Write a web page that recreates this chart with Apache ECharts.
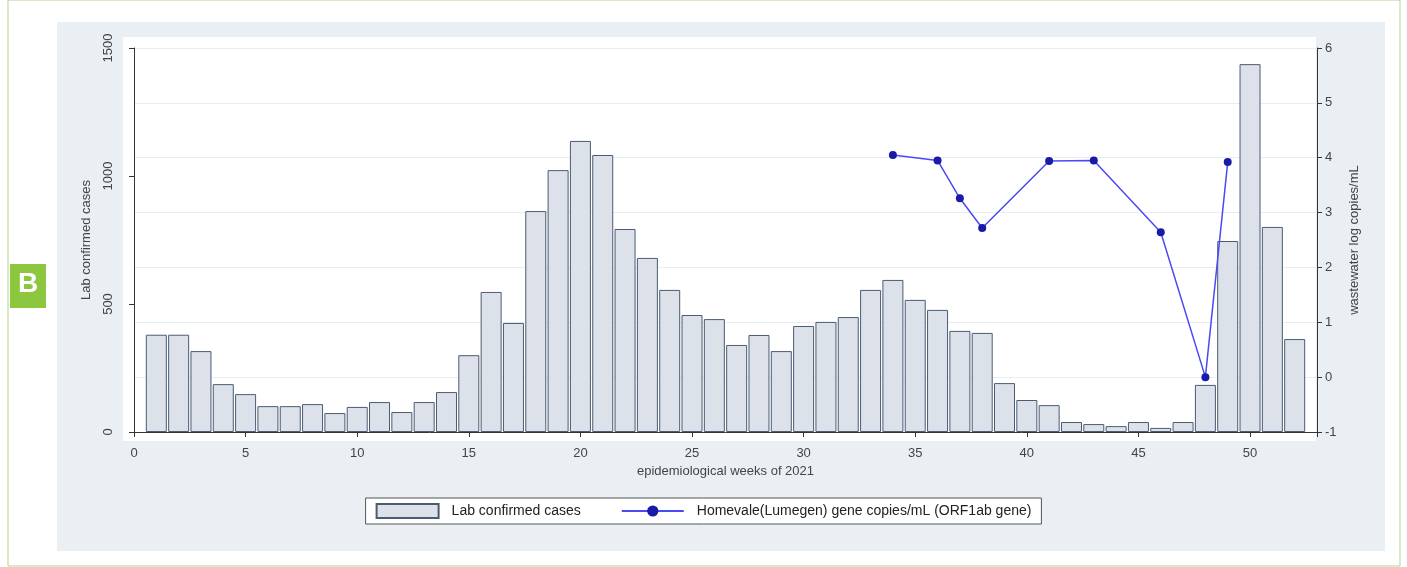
<!DOCTYPE html>
<html>
<head>
<meta charset="utf-8">
<script src="https://cdn.jsdelivr.net/npm/echarts@6/dist/echarts.min.js"></script>
<style>
html, body { margin: 0; padding: 0; background: #fff; }
#chart { width: 1407px; height: 567px; }
</style>
</head>
<body>
<div id="chart"></div>
<script>
var weeks = [];
for (var w = 1; w <= 52; w++) weeks.push(w);
var cases = [380, 380, 316, 187, 148, 101, 101, 109, 74, 98, 117, 78, 117, 156, 300, 547, 426, 863, 1023, 1137,
    1082, 793, 680, 555, 457, 441, 340, 379, 316, 414, 430, 449, 555, 594, 516, 477, 395, 387, 191, 125,
    105, 39, 31, 23, 39, 16, 39, 184, 746, 1437, 801, 363];
var wwWeeks = [34, 36, 37, 38, 41, 43, 46, 48, 49];
var wwValues = [4.05, 3.95, 3.26, 2.72, 3.94, 3.95, 2.64, 0.0, 3.92];

var chart = echarts.init(document.getElementById('chart'));
var txt = { color: '#444', fontSize: 13, fontFamily: 'Liberation Sans' };
var option = {
    animation: false,
    graphic: [
        { type: 'rect', shape: { x: 8, y: 0, width: 1392, height: 566 }, style: { fill: '#fff', stroke: '#b5d58a', lineWidth: 1 }, z: -10 },
        { type: 'rect', shape: { x: 57, y: 22, width: 1328, height: 529 }, style: { fill: '#eaeff3' }, z: -9 },
        { type: 'rect', shape: { x: 123, y: 37, width: 1193, height: 404 }, style: { fill: '#fff' }, z: -8 },
        { type: 'rect', shape: { x: 10, y: 264, width: 36, height: 44 }, style: { fill: '#8dc63f' }, z: -7 },
        { type: 'text', left: 18, top: 270, style: { text: 'B', fill: '#fff', font: 'bold 28px Liberation Sans' } }
    ],
    grid: { left: 134, right: 90, top: 48, bottom: 135 },
    legend: {
        top: 498, left: 'center',
        itemWidth: 62, itemHeight: 14, itemGap: 40,
        backgroundColor: '#fff', borderColor: '#555', borderWidth: 1, padding: [5, 10],
        textStyle: { color: '#222', fontSize: 14, fontFamily: 'Liberation Sans', padding: [0, 0, 0, 8] },
        data: [
            { name: 'Lab confirmed cases', icon: 'rect' },
            { name: 'Homevale(Lumegen) gene copies/mL (ORF1ab gene)' }
        ]
    },
    xAxis: {
        type: 'value', min: 0, max: 53, interval: 5, offset: 9,
        name: 'epidemiological weeks of 2021', nameLocation: 'middle', nameGap: 20,
        nameTextStyle: txt,
        axisLine: { lineStyle: { color: '#333' } },
        axisTick: { lineStyle: { color: '#333' } },
        axisLabel: Object.assign({ margin: 6, formatter: function (v) { return v > 50 ? '' : v; } }, txt),
        splitLine: { show: false }
    },
    yAxis: [{
        type: 'value', min: 0, max: 1500, interval: 500, offset: 11,
        name: 'Lab confirmed cases', nameLocation: 'middle', nameGap: 30, nameRotate: 90,
        nameTextStyle: txt,
        axisLine: { show: true, lineStyle: { color: '#333' } },
        axisTick: { show: true, lineStyle: { color: '#333' } },
        axisLabel: Object.assign({ rotate: 90, margin: 8, formatter: function (v) { return String(v); } }, txt),
        splitLine: { show: false }
    }, {
        type: 'value', min: -1, max: 6, interval: 1, position: 'right',
        name: 'wastewater log copies/mL', nameLocation: 'middle', nameGap: 30, nameRotate: 90,
        nameTextStyle: txt,
        axisLine: { show: true, lineStyle: { color: '#333' } },
        axisTick: { show: true, lineStyle: { color: '#333' } },
        axisLabel: Object.assign({ margin: 8 }, txt),
        splitLine: { show: true, lineStyle: { color: '#e8edf2' } }
    }],
    series: [{
        name: 'Lab confirmed cases', type: 'bar', barWidth: 21,
        data: weeks.map(function (w, i) { return [w, cases[i]]; }),
        itemStyle: { color: '#dde2ea', borderColor: '#4b5b73', borderWidth: 1 }
    }, {
        name: 'Homevale(Lumegen) gene copies/mL (ORF1ab gene)', type: 'line', yAxisIndex: 1,
        data: wwWeeks.map(function (w, i) { return [w, wwValues[i]]; }),
        symbol: 'circle', symbolSize: 8,
        lineStyle: { color: '#4a4af5', width: 1.5 },
        itemStyle: { color: '#1a1aa8' }
    }]
};
chart.setOption(option);
</script>
</body>
</html>
